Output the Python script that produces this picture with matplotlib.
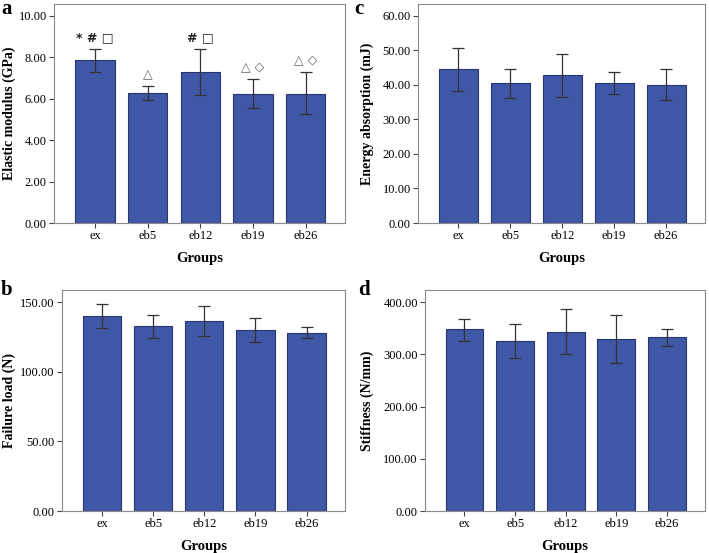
import matplotlib.pyplot as plt

plt.rcParams['font.family'] = ['Liberation Serif', 'DejaVu Serif']

# data
groups = ["ex", "eb5", "eb12", "eb19", "eb26"]

modulus = [7.85, 6.28, 7.29, 6.24, 6.24]
modulus_lo = [7.30, 5.94, 6.18, 5.55, 5.26]
modulus_hi = [8.39, 6.63, 8.38, 6.95, 7.27]
modulus_marks = ["* # \u25a1", "\u25b3", "# \u25a1", "\u25b3 \u25c7", "\u25b3 \u25c7"]

energy = [44.5, 40.5, 42.8, 40.5, 40.0]
energy_lo = [38.3, 36.3, 36.6, 37.4, 35.6]
energy_hi = [50.7, 44.5, 48.9, 43.6, 44.5]

load = [139.9, 132.7, 136.6, 130.3, 128.2]
load_lo = [131.3, 124.1, 125.5, 121.7, 124.1]
load_hi = [148.8, 141.1, 147.6, 138.7, 132.2]

stiff = [348.2, 325.8, 343.7, 330.2, 332.8]
stiff_lo = [326.4, 292.5, 300.2, 284.2, 315.5]
stiff_hi = [368.0, 359.0, 387.8, 375.0, 348.8]

# colors
bar_col = "#3f57a7"
edge_col = "#27366e"
spine_col = "#8a8a8a"
err_col = "#333333"

W, H = 709, 553
fig = plt.figure(figsize=(W / 100, H / 100), dpi=100)


def px_rect(left, top, right, bottom):
    return [left / W, 1 - bottom / H, (right - left) / W, (bottom - top) / H]


panels = [
    # letter, axes box (px), letter pos (px), ylabel x, values, lo, hi, ylabel, ylim, ticks
    ("a", (54, 4, 345, 223), (7, 9), -0.131, modulus, modulus_lo, modulus_hi,
     "Elastic modulus (GPa)", 10.56, [0, 2, 4, 6, 8, 10]),
    ("c", (418, 4, 705, 223), (359, 9), -0.153, energy, energy_lo, energy_hi,
     "Energy absorption (mJ)", 63.4, [0, 10, 20, 30, 40, 50, 60]),
    ("b", (62, 290, 345, 511), (7, 290), -0.163, load, load_lo, load_hi,
     "Failure load (N)", 158.9, [0, 50, 100, 150]),
    ("d", (425, 290, 705, 511), (364, 290), -0.182, stiff, stiff_lo, stiff_hi,
     "Stiffness (N/mm)", 423.6, [0, 100, 200, 300, 400]),
]

axes = {}
for letter, box, lpos, ylx, vals, lo, hi, ylabel, ytop, ticks in panels:
    ax = fig.add_axes(px_rect(*box))
    axes[letter] = ax
    x = list(range(len(groups)))
    yerr = [[v - l for v, l in zip(vals, lo)], [h - v for v, h in zip(vals, hi)]]
    ax.bar(x, vals, width=0.75, color=bar_col, edgecolor=edge_col, lw=0.8, zorder=2)
    ax.errorbar(x, vals, yerr=yerr, fmt="none", ecolor=err_col, elinewidth=0.9,
                capsize=4.5, capthick=0.9, zorder=3)
    ax.set_xlim(-0.78, 4.75)
    ax.set_ylim(0, ytop)
    ax.set_yticks(ticks)
    ax.set_yticklabels(["%.2f" % t for t in ticks], fontsize=9)
    ax.set_xticks(x)
    ax.set_xticklabels(groups, fontsize=9)
    for side in ["bottom", "top", "left", "right"]:
        ax.spines[side].set_color(spine_col)
        ax.spines[side].set_linewidth(0.8)
    ax.tick_params(axis="both", direction="out", length=3.6, width=0.8,
                   color="#444444", pad=1.5)
    ax.set_xlabel("Groups", fontsize=10.5, fontweight="bold", labelpad=7)
    ax.set_ylabel(ylabel, fontsize=10, fontweight="bold")
    ax.yaxis.set_label_coords(ylx, 0.5)
    fig.text(lpos[0] / W, 1 - lpos[1] / H, letter, fontsize=15, fontweight="bold",
             ha="center", va="center")

# significance marks on panel a
ax = axes["a"]
for i, (m, h) in enumerate(zip(modulus_marks, modulus_hi)):
    col = "#222222" if "#" in m else "#666666"
    ax.text(i, h + 0.22, m, ha="center", va="bottom", fontsize=9,
            fontweight="bold" if "#" in m else "normal", color=col,
            family=["DejaVu Sans"])

plt.savefig("out.png", dpi=100)
plt.close("all")
